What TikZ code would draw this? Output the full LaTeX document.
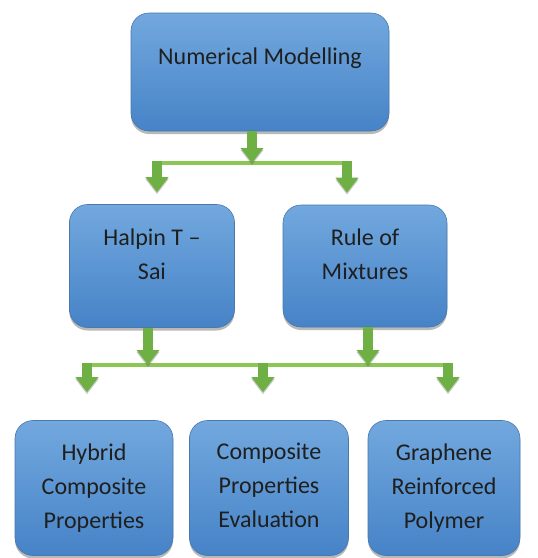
\documentclass[tikz,border=0pt]{standalone}
\usepackage{fontspec}
\setmainfont{Carlito}
\usetikzlibrary{positioning,shadows,arrows.meta}
\definecolor{boxtop}{RGB}{114,168,222}
\definecolor{boxbot}{RGB}{70,131,199}
\definecolor{boxline}{RGB}{72,120,172}
\definecolor{leaf}{RGB}{110,176,68}
\definecolor{leaflight}{RGB}{140,198,84}
\tikzset{
  box/.style = {draw=boxline, line width=0.6pt, rounded corners=18pt,
                top color=boxtop, bottom color=boxbot,
                drop shadow={shadow xshift=0pt, shadow yshift=-3pt, opacity=.55}},
  txt/.style = {align=center, font=\fontsize{24}{34}\selectfont, text=black!88},
  flow/.style = {draw=leaf, line width=10pt, -{Triangle[width=22pt,length=15pt]},
                 preaction={draw=black!70, opacity=.3, transform canvas={yshift=-2pt}}},
  bar/.style = {draw=leaflight, line width=4.5pt}
}
\begin{document}
\begin{tikzpicture}[x=1pt, y=-1pt]
  \useasboundingbox (0,0) rectangle (538,558);
  % boxes
  \node[box, minimum width=258pt, minimum height=118pt] (num) at (260,72) {};
  \node[txt] (numtxt) at (260,58) {Numerical Modelling};
  \node[box, minimum width=165pt, minimum height=123pt] (halpin) at (152,266) {};
  \node[txt] (halpintxt) at (152,254) {Halpin T –\\Sai};
  \node[box, minimum width=164pt, minimum height=122pt] (rule) at (365,266) {};
  \node[txt] (ruletxt) at (365,254) {Rule of\\Mixtures};
  \node[box, minimum width=158pt, minimum height=135pt] (hybrid) at (94,488) {};
  \node[txt] (hybridtxt) at (94,488) {Hybrid\\Composite\\Properties};
  \node[box, minimum width=159pt, minimum height=135pt] (comp) at (269,488) {};
  \node[txt] (comptxt) at (269,485) {Composite\\Properties\\Evaluation};
  \node[box, minimum width=152pt, minimum height=135pt] (graph) at (444,488) {};
  \node[txt] (graphtxt) at (444,488) {Graphene\\Reinforced\\Polymer};
  % first split
  \coordinate (j1) at (252,163);
  \coordinate (l1) at (157,163);
  \coordinate (r1) at (347,163);
  \draw[bar] ([xshift=-5pt]l1) -- ([xshift=5pt]r1);
  \draw[flow] (num.south -| j1) -- (j1);
  \draw[flow] ([yshift=2pt]l1) -- ([yshift=12pt]halpin.north -| l1);
  \draw[flow] ([yshift=2pt]r1) -- ([yshift=12pt]rule.north -| r1);
  % second split
  \coordinate (j2) at (148,365);
  \coordinate (j3) at (368,365);
  \coordinate (l2) at (87,365);
  \coordinate (m2) at (263,365);
  \coordinate (r2) at (448,365);
  \draw[bar] ([xshift=-5pt]l2) -- ([xshift=5pt]r2);
  \draw[flow] (halpin.south -| j2) -- (j2);
  \draw[flow] (rule.south -| j3) -- (j3);
  \draw[flow] ([yshift=2pt]l2) -- ([yshift=28pt]hybrid.north -| l2);
  \draw[flow] ([yshift=2pt]m2) -- ([yshift=28pt]comp.north -| m2);
  \draw[flow] ([yshift=2pt]r2) -- ([yshift=28pt]graph.north -| r2);
\end{tikzpicture}
\end{document}
